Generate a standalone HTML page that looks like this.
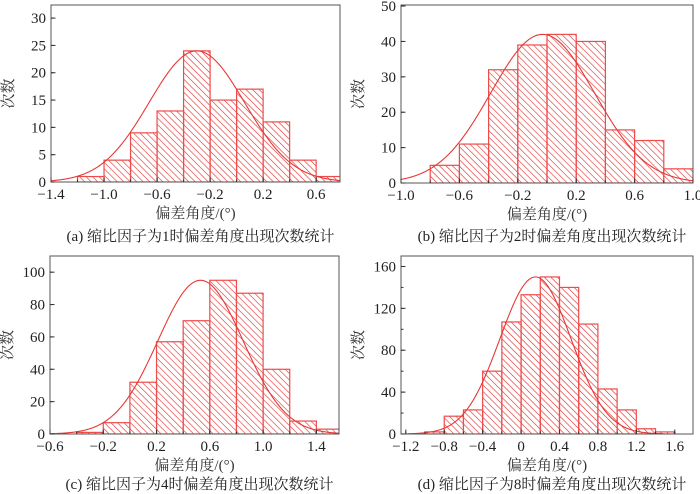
<!DOCTYPE html>
<html><head><meta charset="utf-8"><style>
body{margin:0;background:#fff;}
svg{display:block;font-family:"Liberation Serif","Noto Serif CJK SC",serif;}
</style></head><body>
<svg id="fig" width="700" height="494" viewBox="0 0 700 494">
<defs>
<pattern id="hatch" width="4.6" height="4.6" patternUnits="userSpaceOnUse" patternTransform="rotate(-45)">
<line x1="0" y1="0" x2="0" y2="4.6" stroke="#e02828" stroke-width="1.2"/>
</pattern>
</defs>
</svg>
<script>
// Panel (a)
const aEdges = [-1.2,-1.0,-0.8,-0.6,-0.4,-0.2,0,0.2,0.4,0.6,0.8];
const aCounts = [1,4,9,13,24,15,17,11,4,1];
const aFit = [24,-0.3,0.36]; // amplitude, mean, sigma
const aXTicks = [-1.4,-1.0,-0.6,-0.2,0.2,0.6];
const aYTicks = [0,5,10,15,20,25,30];
// Panel (b)
const bEdges = [-0.8,-0.6,-0.4,-0.2,0,0.2,0.4,0.6,0.8,1.0];
const bCounts = [5,11,32,39,42,40,15,12,4];
const bFit = [42,-0.03,0.355];
const bXTicks = [-1.0,-0.6,-0.2,0.2,0.6,1.0];
const bYTicks = [0,10,20,30,40,50];
// Panel (c)
const cEdges = [-0.4,-0.2,0,0.2,0.4,0.6,0.8,1.0,1.2,1.4,1.6];
const cCounts = [1,7,32,57,70,95,87,40,8,3];
const cFit = [95,0.53,0.32];
const cXTicks = [-0.6,-0.2,0.2,0.6,1.0,1.4];
const cYTicks = [0,20,40,60,80,100];
// Panel (d)
const dEdges = [-1.0,-0.8,-0.6,-0.4,-0.2,0,0.2,0.4,0.6,0.8,1.0,1.2,1.4,1.6];
const dCounts = [2,17,23,60,107,133,150,140,105,43,23,5,2];
const dFit = [150,0.15,0.37];
const dXTicks = [-1.2,-0.8,-0.4,0,0.4,0.8,1.2,1.6];
const dYTicks = [0,40,80,120,160];

const NS = "http://www.w3.org/2000/svg";
const svg = document.getElementById('fig');
function mk(tag, attrs, parent){const e=document.createElementNS(NS,tag);for(const k in attrs)e.setAttribute(k,attrs[k]);(parent||svg).appendChild(e);return e;}
function fmt(v){if(Math.abs(v)<1e-9)return "0";let s=(Math.round(v*10)/10).toFixed(1);return s.replace('-','\u2212');}

function panel(cfg){
  const {id,L,R,T,B,xmin,xmax,ymax,edges,counts,fit,xt,yt,xminor,yminor,cap,intLabels,capOff}=cfg;
  const g=mk('g',{});
  
  
  const X=v=>L+(v-xmin)/(xmax-xmin)*(R-L);
  const Y=v=>B-v/ymax*(B-T);
  const cid='clip-'+id;
  const cp=mk('clipPath',{id:cid},g);mk('rect',{x:L,y:T,width:R-L,height:B-T},cp);
  const bars=mk('g',{'clip-path':'url(#'+cid+')'},g);
  for(let i=0;i<counts.length;i++){
    const x0=X(edges[i]),x1=X(edges[i+1]),y=Y(counts[i]);
    const r=mk('rect',{x:x0,y:y,width:x1-x0,height:B-y,fill:'url(#hatch)',stroke:'#ee4b4b','stroke-width':1.2},bars);
    
    
  }
  const [A,mu,s]=fit;let d='';
  for(let k=0;k<=300;k++){const v=mu-3.6*s+7.2*s*k/300;const yv=A*Math.exp(-(v-mu)*(v-mu)/(2*s*s));d+=(k?'L':'M')+X(v).toFixed(2)+','+Y(yv).toFixed(2);}
  const c=mk('path',{d:d,fill:'none',stroke:'#e53935','stroke-width':1.1,'clip-path':'url(#'+cid+')'},g);
  
  
  mk('rect',{x:L,y:T,width:R-L,height:B-T,fill:'none',stroke:'#555','stroke-width':1},g);
  for(let v=xt[0];v<=xmax+1e-9;v+=xminor){if(v<xmin-1e-9)continue;const xx=X(v);mk('line',{x1:xx,x2:xx,y1:B,y2:B-2.5,stroke:'#333'},g);}
  xt.forEach(v=>{const xx=X(v);mk('line',{x1:xx,x2:xx,y1:B,y2:B-4.5,stroke:'#333'},g);
    const t=mk('text',{x:xx,y:B+17,'text-anchor':'middle','font-size':15,fill:'#222'},g);t.textContent=intLabels&&Math.abs(v)<1e-9?'0':fmt(v);
    });
  for(let v=0;v<=ymax+1e-9;v+=yminor){const yy=Y(v);mk('line',{x1:L,x2:L+2.5,y1:yy,y2:yy,stroke:'#333'},g);}
  yt.forEach(v=>{const yy=Y(v);mk('line',{x1:L,x2:L+4.5,y1:yy,y2:yy,stroke:'#333'},g);
    const t=mk('text',{x:L-5,y:yy+5,'text-anchor':'end','font-size':15,fill:'#222'},g);t.textContent=String(v);
    });
  const xl=mk('text',{x:(L+R)/2,y:B+36,'text-anchor':'middle','font-size':15,fill:'#333'},g);xl.textContent='偏差角度/(°)';
  
  const yx=L-38,yy=(T+B)/2;
  const yl=mk('text',{x:yx,y:yy,'text-anchor':'middle','font-size':15,fill:'#333',transform:'rotate(-90 '+yx+' '+yy+')'},g);yl.textContent='次数';
  
  const ct=mk('text',{x:(L+R)/2+5,y:B+capOff,'text-anchor':'middle','font-size':15,fill:'#222'},g);ct.textContent=cap;
  
}
panel({id:'a',L:51,R:340,T:5,B:182,xmin:-1.4,xmax:0.78,ymax:32.4,edges:aEdges,counts:aCounts,fit:aFit,xt:aXTicks,yt:aYTicks,xminor:0.2,yminor:5,cap:'(a) 缩比因子为1时偏差角度出现次数统计',capOff:59});
panel({id:'b',L:401,R:693,T:5,B:183,xmin:-1.0,xmax:1.0,ymax:50.3,edges:bEdges,counts:bCounts,fit:bFit,xt:bXTicks,yt:bYTicks,xminor:0.2,yminor:10,cap:'(b) 缩比因子为2时偏差角度出现次数统计',capOff:58});
panel({id:'c',L:50,R:339,T:256,B:434,xmin:-0.6,xmax:1.57,ymax:110,edges:cEdges,counts:cCounts,fit:cFit,xt:cXTicks,yt:cYTicks,xminor:0.2,yminor:20,cap:'(c) 缩比因子为4时偏差角度出现次数统计',capOff:55});
panel({id:'d',L:401,R:693,T:256,B:434,xmin:-1.25,xmax:1.79,ymax:170,edges:dEdges,counts:dCounts,fit:dFit,xt:dXTicks,yt:dYTicks,xminor:0.2,yminor:20,cap:'(d) 缩比因子为8时偏差角度出现次数统计',intLabels:true,capOff:55});
</script>
</body></html>
